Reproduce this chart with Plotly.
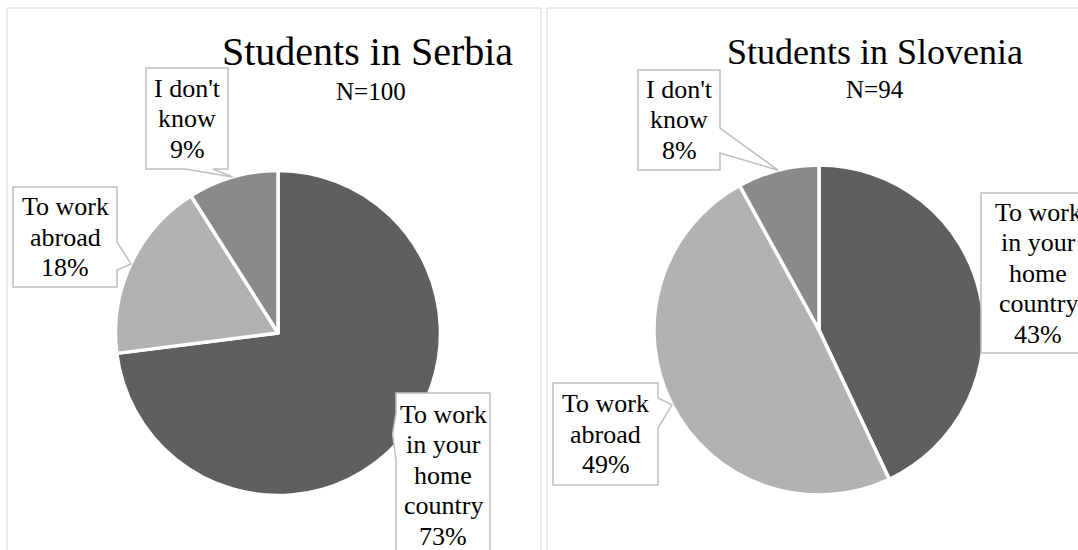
import math
import plotly.graph_objects as go

# ---- data -----------------------------------------------------------------
categories = ["To work in your home country", "To work abroad", "I don't know"]
category_lines = [["To work", "in your", "home", "country"], ["To work", "abroad"], ["I don't", "know"]]
serbia_pct = [73, 18, 9]
slovenia_pct = [43, 49, 8]
serbia_n = 100
slovenia_n = 94
titles = ["Students in Serbia", "Students in Slovenia"]

# ---- styling --------------------------------------------------------------
W, H = 1078, 550
slice_colors = ["#5f5f5f", "#b2b2b2", "#8a8a8a"]
FONT = "Times New Roman, Liberation Serif, serif"
LABEL_SIZE = 26
LINE_PITCH = 30.5
BOX_LINE = "#bfbfbf"
PANEL_LINE = "#d9d9d9"


def px(x):
    return x / W


def py(y):
    return 1 - y / H


# pie geometry in pixels: centre x, centre y, radius
pies = [
    dict(cx=278, cy=333, r=162.5, values=serbia_pct, n=serbia_n, title=titles[0],
         title_size=40, title_x=367, title_y=51, sub_x=371, sub_y=91),
    dict(cx=819, cy=330, r=165, values=slovenia_pct, n=slovenia_n, title=titles[1],
         title_size=36, title_x=875, title_y=52, sub_x=875, sub_y=89),
]

# callout boxes (pixels): box, side the pointer leaves from, pointer base, tip radius factor
callouts = [
    [
        dict(box=(396, 393, 490, 557), side="left", base=(413, 460), tip_r=0.94),
        dict(box=(13, 187, 117, 287), side="right", base=(242, 270), tip_r=1.0),
        dict(box=(146, 68, 228, 169), side="bottom", base=(185, 213), tip_r=1.0),
    ],
    [
        dict(box=(981, 193, 1095, 353), side=None, base=None, tip_r=1.0),
        dict(box=(553, 383, 658, 485), side="right", base=(398, 428), tip_r=1.0),
        dict(box=(638, 70, 720, 170), side="right", base=(128, 153), tip_r=1.0),
    ],
]

fig = go.Figure()
shapes = []
annotations = []

# panel frames
for x0, x1 in [(7, 541), (547, 1100)]:
    shapes.append(dict(type="rect", xref="paper", yref="paper",
                       x0=px(x0), x1=px(x1), y0=py(8), y1=py(600),
                       line=dict(color=PANEL_LINE, width=1), fillcolor="rgba(0,0,0,0)",
                       layer="below"))


def pt(x, y):
    return f"{px(x):.5f},{py(y):.5f}"


def callout_path(box, side, base, tip):
    x0, y0, x1, y1 = box
    if side == "right":
        pts = [(x0, y0), (x1, y0), (x1, base[0]), tip, (x1, base[1]), (x1, y1), (x0, y1)]
    elif side == "left":
        pts = [(x0, y0), (x1, y0), (x1, y1), (x0, y1), (x0, base[1]), tip, (x0, base[0])]
    elif side == "bottom":
        pts = [(x0, y0), (x1, y0), (x1, y1), (base[1], y1), tip, (base[0], y1), (x0, y1)]
    else:
        pts = [(x0, y0), (x1, y0), (x1, y1), (x0, y1)]
    return "M " + " L ".join(pt(*p) for p in pts) + " Z"


for pie, specs in zip(pies, callouts):
    cx, cy, r = pie["cx"], pie["cy"], pie["r"]
    vals = pie["values"]
    fig.add_trace(go.Pie(
        labels=categories, values=vals, sort=False, direction="clockwise", rotation=0,
        marker=dict(colors=slice_colors, line=dict(color="white", width=3.5)),
        textinfo="none", hoverinfo="label+percent", showlegend=False,
        domain=dict(x=[px(cx - r), px(cx + r)], y=[py(cy + r), py(cy - r)]),
    ))

    total = sum(vals)
    start = 0.0
    for i, v in enumerate(vals):
        mid = math.radians((start + v / 2) / total * 360)
        start += v
        spec = specs[i]
        rr = r * spec["tip_r"]
        tip = (cx + rr * math.sin(mid), cy - rr * math.cos(mid))
        shapes.append(dict(type="path", xref="paper", yref="paper",
                           path=callout_path(spec["box"], spec["side"], spec["base"], tip),
                           line=dict(color=BOX_LINE, width=1.5), fillcolor="white"))
        bx0, by0, bx1, by1 = spec["box"]
        lines = category_lines[i] + [f"{v}%"]
        mid_y = (by0 + by1) / 2
        for k, line in enumerate(lines):
            ly = mid_y + (k - (len(lines) - 1) / 2) * LINE_PITCH
            annotations.append(dict(
                x=px((bx0 + bx1) / 2), y=py(ly), xref="paper", yref="paper",
                text=line, showarrow=False, xanchor="center", yanchor="middle",
                font=dict(family=FONT, size=LABEL_SIZE, color="black"),
            ))

    annotations.append(dict(
        x=px(pie["title_x"]), y=py(pie["title_y"]), xref="paper", yref="paper",
        text=pie["title"], showarrow=False, xanchor="center", yanchor="middle",
        font=dict(family=FONT, size=pie["title_size"], color="black"),
    ))
    annotations.append(dict(
        x=px(pie["sub_x"]), y=py(pie["sub_y"]), xref="paper", yref="paper",
        text=f"N={pie['n']}", showarrow=False, xanchor="center", yanchor="middle",
        font=dict(family=FONT, size=25, color="black"),
    ))

fig.update_layout(
    width=W, height=H,
    margin=dict(l=0, r=0, t=0, b=0),
    paper_bgcolor="white", plot_bgcolor="white",
    shapes=shapes, annotations=annotations,
)

fig.write_html("out.html")
